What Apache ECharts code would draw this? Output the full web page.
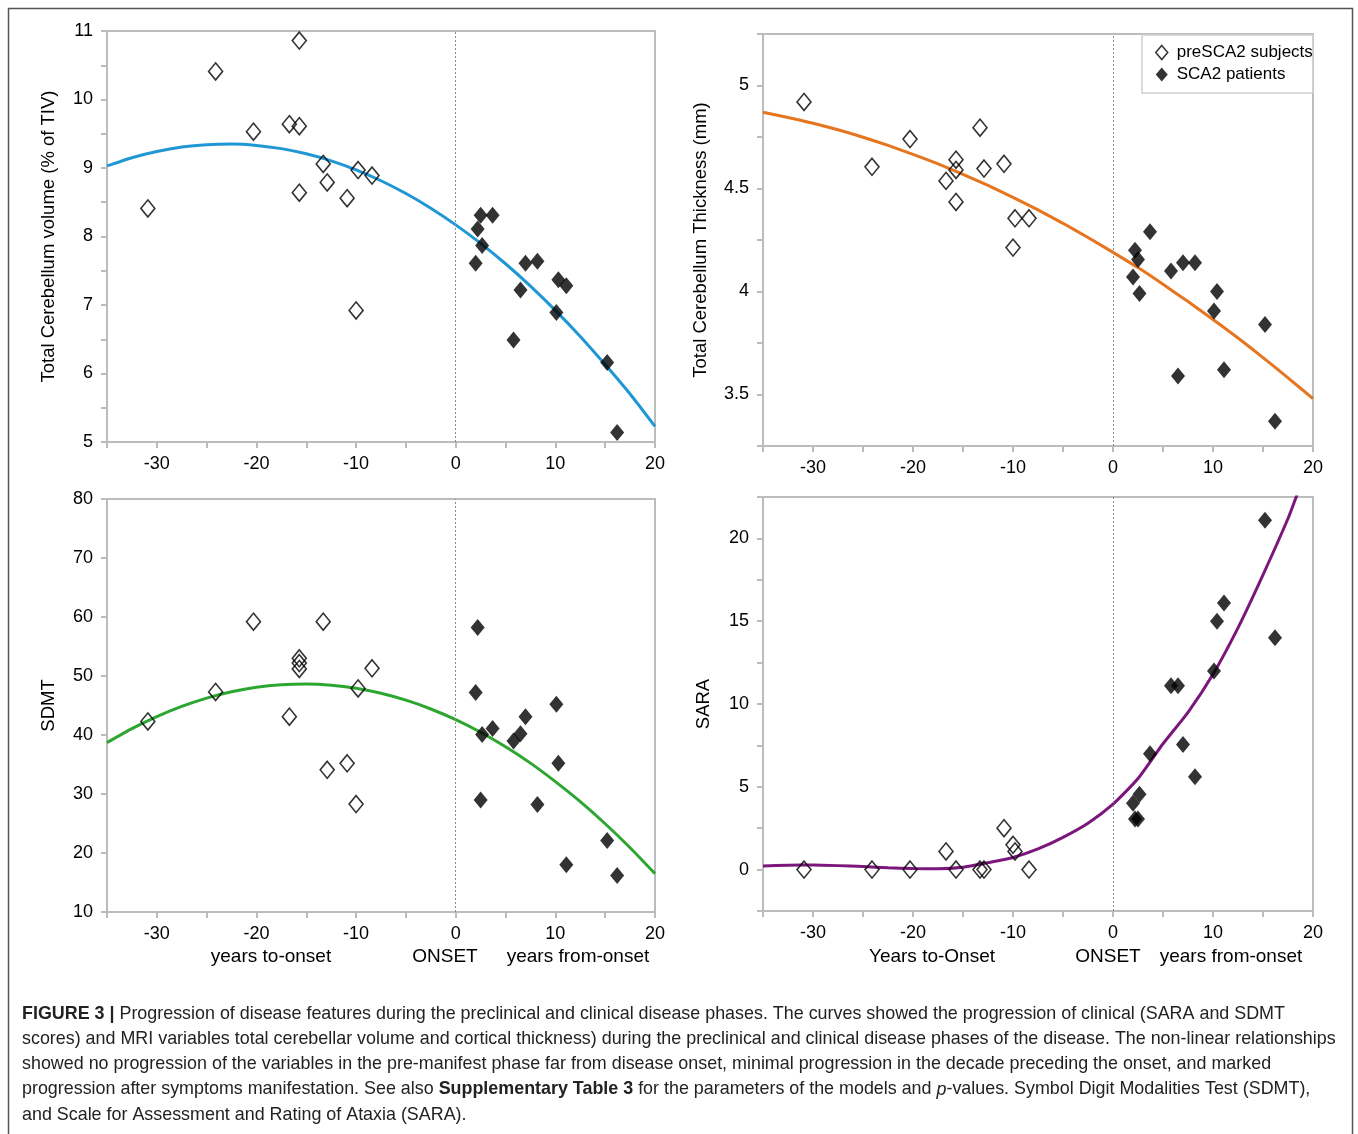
<!DOCTYPE html>
<html>
<head>
<meta charset="utf-8">
<script src="https://cdn.jsdelivr.net/npm/echarts@6/dist/echarts.min.js"></script>
<style>
html,body{margin:0;padding:0;background:#fff;}
#chart{width:1358px;height:1134px;}
</style>
</head>
<body>
<div id="chart"></div>
<script>
// ---------- DATA ----------
// Panel A: Total Cerebellum volume (% of TIV)
const volPreX = [-30.9, -24.1, -20.3, -16.7, -15.7, -15.7, -15.7, -13.3, -12.9, -10.9, -9.8, -10.0, -8.4];
const volPreY = [8.41, 10.41, 9.53, 9.64, 9.61, 10.86, 8.64, 9.06, 8.79, 8.56, 8.97, 6.92, 8.89];
const volPatX = [2.2, 2.5, 3.7, 2.65, 2.0, 7.0, 8.2, 6.5, 5.8, 10.3, 11.1, 10.1, 15.2, 16.2];
const volPatY = [8.11, 8.31, 8.31, 7.87, 7.61, 7.61, 7.64, 7.22, 6.49, 7.37, 7.28, 6.89, 6.16, 5.14];
const fitX = [-35, -32.5, -30, -27.5, -25, -22.5, -20, -17.5, -15, -12.5, -10, -7.5, -5, -2.5, 0, 2.5, 5, 7.5, 10, 12.5, 15, 17.5, 20];
const volFitY = [9.03, 9.15, 9.24, 9.305, 9.34, 9.35, 9.33, 9.283, 9.207, 9.104, 8.973, 8.814, 8.627, 8.413, 8.17, 7.90, 7.602, 7.276, 6.922, 6.541, 6.13, 5.70, 5.227];

// Panel B: Total Cerebellum Thickness (mm)
const thkPreX = [-30.9, -24.1, -20.3, -16.7, -15.7, -15.7, -15.7, -13.3, -12.9, -10.9, -9.8, -10.0, -8.4];
const thkPreY = [4.92, 4.605, 4.74, 4.537, 4.64, 4.59, 4.435, 4.795, 4.597, 4.62, 4.355, 4.213, 4.355];
const thkPatX = [2.2, 2.5, 2.0, 2.65, 3.7, 5.8, 7.0, 8.2, 6.5, 10.4, 10.1, 11.1, 15.2, 16.2];
const thkPatY = [4.20, 4.155, 4.07, 3.99, 4.29, 4.10, 4.14, 4.14, 3.59, 4.00, 3.905, 3.62, 3.84, 3.37];
const thkFitY = [4.87, 4.845, 4.817, 4.785, 4.749, 4.709, 4.666, 4.62, 4.569, 4.515, 4.457, 4.396, 4.331, 4.262, 4.19, 4.116, 4.035, 3.951, 3.864, 3.774, 3.679, 3.581, 3.48];

// Panel C: SDMT
const sdmtPreX = [-30.9, -24.1, -20.3, -16.7, -15.7, -15.7, -15.7, -13.3, -12.9, -10.9, -9.8, -10.0, -8.4];
const sdmtPreY = [42.3, 47.3, 59.2, 43.1, 53.0, 52.2, 51.2, 59.2, 34.1, 35.2, 47.9, 28.3, 51.3];
const sdmtPatX = [2.2, 2.0, 2.65, 2.5, 3.7, 5.8, 6.5, 7.0, 8.2, 10.1, 10.3, 11.1, 15.2, 16.2];
const sdmtPatY = [58.2, 47.2, 40.1, 29.0, 41.1, 39.0, 40.2, 43.1, 28.2, 45.2, 35.2, 18.0, 22.1, 16.2];
const sdmtFitY = [38.7, 41.07, 43.12, 44.85, 46.26, 47.33, 48.1, 48.53, 48.66, 48.45, 47.92, 47.07, 45.9, 44.41, 42.6, 40.47, 38.0, 35.23, 32.1, 28.71, 24.96, 20.89, 16.5];

// Panel D: SARA
const saraPreX = [-30.9, -24.1, -20.3, -16.7, -15.7, -13.3, -12.9, -10.9, -10.0, -9.8, -8.4];
const saraPreY = [0, 0, 0, 1.1, 0, 0, 0, 2.5, 1.5, 1.1, 0];
const saraPatX = [15.2, 11.1, 10.4, 16.2, 10.1, 5.8, 6.5, 3.7, 7.0, 8.2, 2.65, 2.0, 2.2, 2.5];
const saraPatY = [21.1, 16.1, 15.0, 14.0, 12.0, 11.1, 11.1, 7.0, 7.55, 5.6, 4.55, 4.0, 3.05, 3.05];
const saraFitX = [-35, -32.5, -30, -27.5, -25, -22.5, -20, -17.5, -15, -12.5, -10, -7.5, -5, -2.5, 0, 2.5, 5, 7.5, 10, 12.5, 15, 17.5, 18.5];
const saraFitY = [0.22, 0.26, 0.28, 0.24, 0.18, 0.11, 0.06, 0.05, 0.14, 0.42, 0.73, 1.25, 1.95, 2.8, 3.95, 5.5, 7.6, 9.5, 11.8, 14.6, 17.8, 21.2, 22.8];

const yNames = ['Total Cerebellum volume (% of TIV)', 'Total Cerebellum Thickness (mm)', 'SDMT', 'SARA'];
const yMins = [5, 3.25, 10, -2.5];
const yMaxs = [11, 5.25, 80, 22.5];
const yIntervals = [0.5, 0.25, 10, 2.5];
const yLabelSteps = [1, 0.5, 10, 5];
const fitColors = ['#1f97d4', '#e5761f', '#2ca631', '#7b177c'];

const legendPre = 'preSCA2 subjects';
const legendPat = 'SCA2 patients';

const panels = [
  {preX: volPreX, preY: volPreY, patX: volPatX, patY: volPatY, fitX: fitX, fitY: volFitY},
  {preX: thkPreX, preY: thkPreY, patX: thkPatX, patY: thkPatY, fitX: fitX, fitY: thkFitY},
  {preX: sdmtPreX, preY: sdmtPreY, patX: sdmtPatX, patY: sdmtPatY, fitX: fitX, fitY: sdmtFitY},
  {preX: saraPreX, preY: saraPreY, patX: saraPatX, patY: saraPatY, fitX: saraFitX, fitY: saraFitY}
];

const captionLines = [
  '{b|FIGURE 3 |} Progression of disease features during the preclinical and clinical disease phases. The curves showed the progression of clinical (SARA and SDMT',
  'scores) and MRI variables total cerebellar volume and cortical thickness) during the preclinical and clinical disease phases of the disease. The non-linear relationships',
  'showed no progression of the variables in the pre-manifest phase far from disease onset, minimal progression in the decade preceding the onset, and marked',
  'progression after symptoms manifestation. See also {b|Supplementary Table 3} for the parameters of the models and {i|p}-values. Symbol Digit Modalities Test (SDMT),',
  'and Scale for Assessment and Rating of Ataxia (SARA).'
];

// ---------- CHART ----------
const FONT = '"Liberation Sans", Arial, Helvetica, sans-serif';
const AXIS_GRAY = '#bcbcbc';
const zip = (xs, ys) => xs.map((x, i) => [x, ys[i]]);
const near = (v, step) => Math.abs(v / step - Math.round(v / step)) < 1e-6;

const grids = [
  {left: 107, top: 31, width: 548, height: 411},
  {left: 763, top: 34, width: 550, height: 412},
  {left: 107, top: 499, width: 548, height: 413},
  {left: 763, top: 497, width: 550, height: 414}
].map(g => Object.assign(g, {show: true, borderColor: AXIS_GRAY, borderWidth: 2, backgroundColor: 'transparent'}));

const nameGaps = [49, 53, 49, 50];

const xAxes = grids.map((g, i) => ({
  type: 'value', gridIndex: i, min: -35, max: 20, interval: 5,
  axisLine: {show: true, onZero: false, lineStyle: {color: AXIS_GRAY, width: 2}},
  axisTick: {show: true, length: 6, lineStyle: {color: AXIS_GRAY, width: 2}},
  splitLine: {show: false},
  axisLabel: {
    margin: 13, fontSize: 18, color: '#000', fontFamily: FONT,
    formatter: v => (near(v, 10) ? String(Math.round(v)) : '')
  }
}));

const yAxes = grids.map((g, i) => ({
  type: 'value', gridIndex: i, min: yMins[i], max: yMaxs[i], interval: yIntervals[i],
  name: yNames[i], nameLocation: 'middle', nameRotate: 90, nameGap: nameGaps[i],
  nameTextStyle: {fontSize: 18.5, color: '#000', fontFamily: FONT},
  axisLine: {show: true, onZero: false, lineStyle: {color: AXIS_GRAY, width: 2}},
  axisTick: {show: true, length: 6, lineStyle: {color: AXIS_GRAY, width: 2}},
  splitLine: {show: false},
  axisLabel: {
    margin: 14, fontSize: 18, color: '#000', fontFamily: FONT,
    formatter: v => (near(v, yLabelSteps[i]) ? String(Math.round(v * 10) / 10) : '')
  }
}));

const series = [];
panels.forEach((p, i) => {
  series.push({
    type: 'line', name: 'fit' + i, xAxisIndex: i, yAxisIndex: i,
    data: zip(p.fitX, p.fitY), smooth: 0.2, showSymbol: false, clip: true,
    lineStyle: {color: fitColors[i], width: 3}, z: 2,
    markLine: {
      silent: true, symbol: ['none', 'none'], label: {show: false},
      lineStyle: {type: [2, 2], color: '#8a8a8a', width: 1},
      data: [{xAxis: 0}]
    }
  });
  series.push({
    type: 'scatter', name: legendPre, xAxisIndex: i, yAxisIndex: i,
    data: zip(p.preX, p.preY), symbol: 'diamond', symbolSize: [14, 17],
    itemStyle: {color: 'rgba(255,255,255,0)', borderColor: '#000', borderWidth: 1.6}, z: 3
  });
  series.push({
    type: 'scatter', name: legendPat, xAxisIndex: i, yAxisIndex: i,
    data: zip(p.patX, p.patY), symbol: 'diamond', symbolSize: [14, 17],
    itemStyle: {color: '#000'}, z: 3
  });
});

const textStyleBase = {fontSize: 19, fontFamily: FONT, fill: '#000'};
const subLabels = [
  ['years to-onset', 271], ['ONSET', 445], ['years from-onset', 578],
  ['Years to-Onset', 932], ['ONSET', 1108], ['years from-onset', 1231]
];

const graphic = [
  {type: 'rect', silent: true, z: 0, shape: {x: 8.5, y: 8.5, width: 1344, height: 1150},
   style: {fill: 'none', stroke: '#555', lineWidth: 1.5}}
];
subLabels.forEach(([t, x]) => graphic.push({
  type: 'text', x: x, y: 957, silent: true,
  style: Object.assign({text: t, align: 'center', verticalAlign: 'middle'}, textStyleBase)
}));
const CAP = 17.9, CAPLH = 25.3, CAPCOL = '#222';
graphic.push({
  type: 'text', x: 22, y: 1001, silent: true,
  style: {
    text: captionLines.join('\n'), fontSize: CAP, fontFamily: FONT, fill: CAPCOL,
    lineHeight: CAPLH, align: 'left', verticalAlign: 'top',
    rich: {
      b: {fontWeight: 'bold', fontSize: CAP, fontFamily: FONT, fill: CAPCOL, lineHeight: CAPLH},
      i: {fontStyle: 'italic', fontSize: CAP, fontFamily: FONT, fill: CAPCOL, lineHeight: CAPLH}
    }
  }
});

const option = {
  animation: false,
  backgroundColor: '#fff',
  grid: grids,
  xAxis: xAxes,
  yAxis: yAxes,
  legend: {
    data: [
      {name: legendPre, icon: 'diamond', itemStyle: {color: 'rgba(255,255,255,0)', borderColor: '#000', borderWidth: 1.5}},
      {name: legendPat, icon: 'diamond', itemStyle: {color: '#000'}}
    ],
    orient: 'vertical', left: 1142, top: 35,
    itemWidth: 12, itemHeight: 14, itemGap: 5,
    padding: [9, 0, 10, 13],
    borderColor: '#d0d0d0', borderWidth: 1.5, backgroundColor: '#fff',
    selectedMode: false,
    textStyle: {fontSize: 17, color: '#000', fontFamily: FONT, padding: [0, 0, 0, 4]}
  },
  series: series,
  graphic: graphic
};

const chart = echarts.init(document.getElementById('chart'), null, {renderer: 'canvas'});
chart.setOption(option);
</script>
</body>
</html>
